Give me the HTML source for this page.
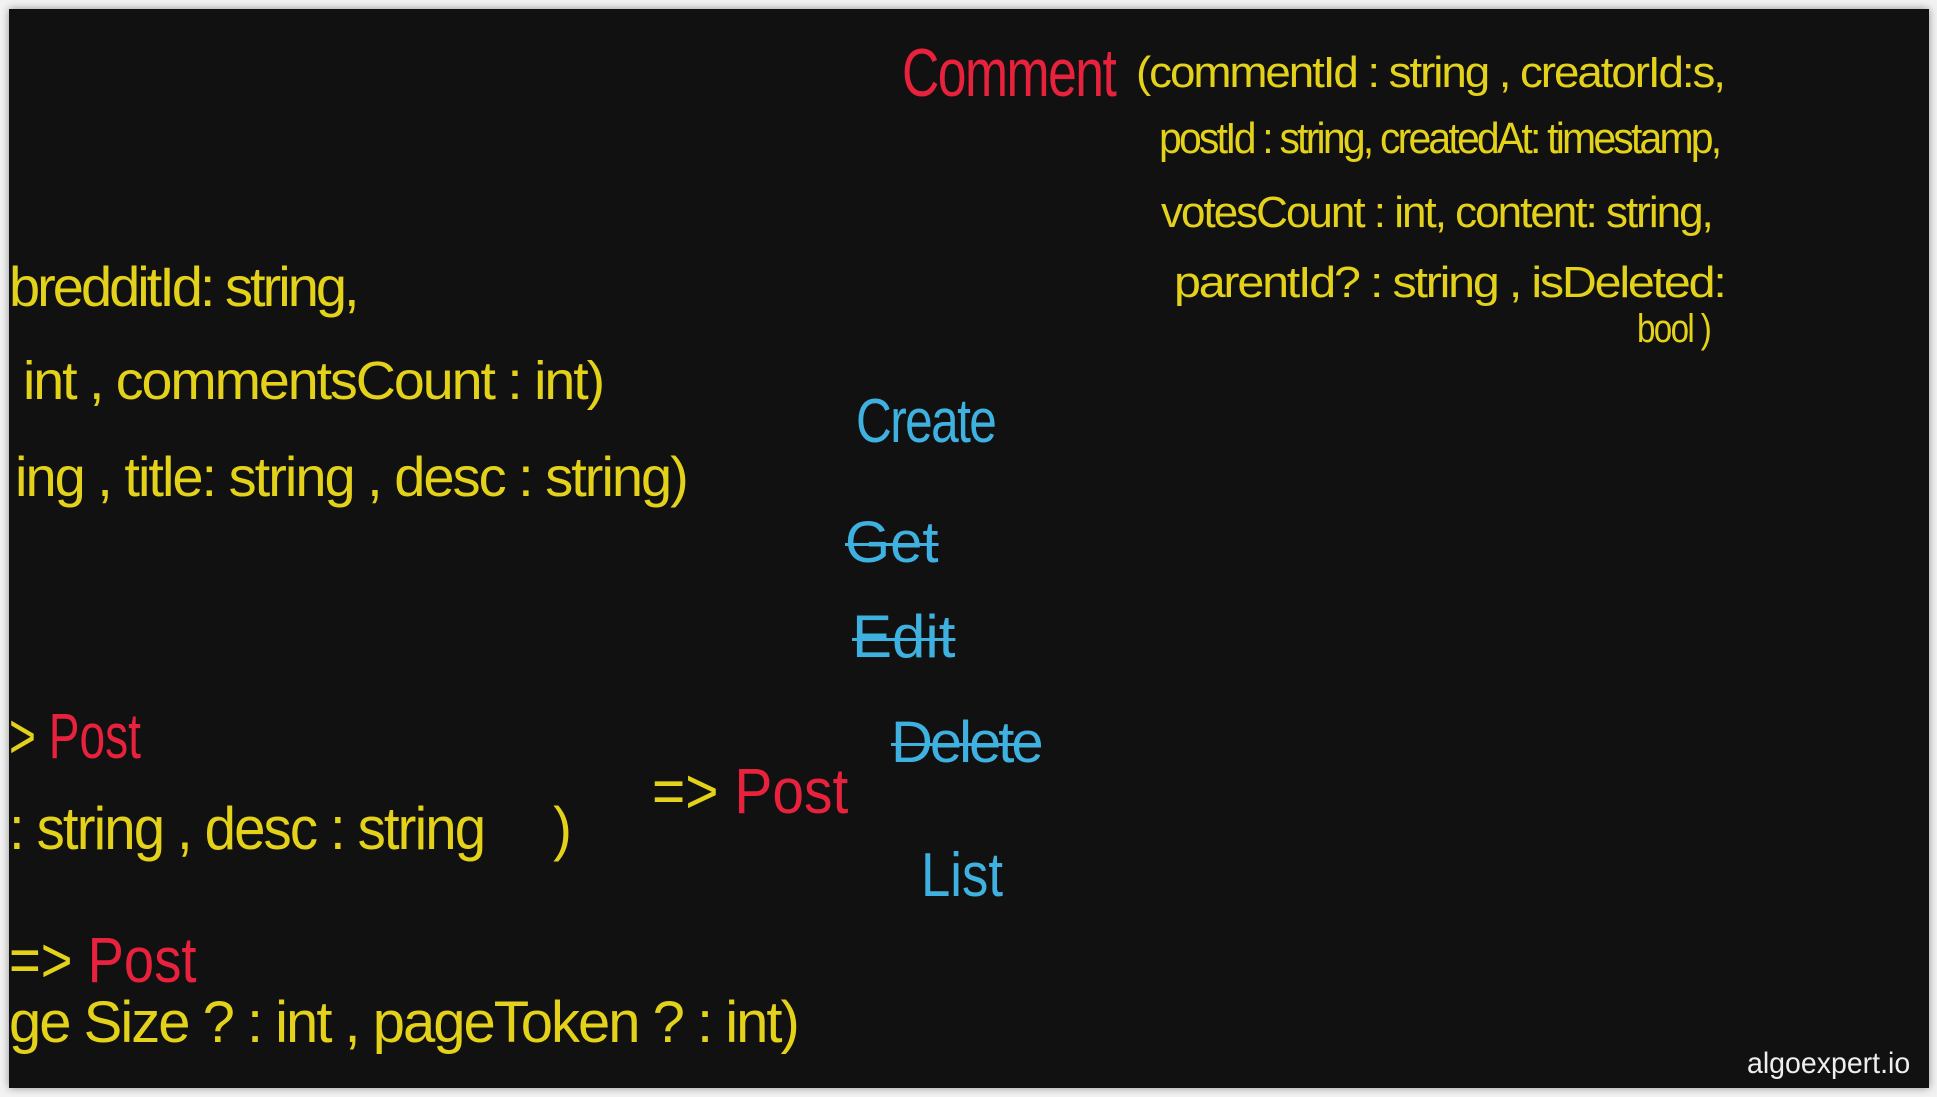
<!DOCTYPE html>
<html><head><meta charset="utf-8"><style>
html,body{margin:0;padding:0;width:1937px;height:1097px;background:#f2f2f2;overflow:hidden}
#b{position:absolute;left:9px;top:9px;width:1920px;height:1079px;background:#111;overflow:hidden;box-shadow:0 0 8px rgba(0,0,0,.4)}
.t{position:absolute;white-space:nowrap;font-family:"Liberation Sans",sans-serif;line-height:1;transform-origin:0 0}
.y{color:#e4d21a}.r{color:#e8213c}.c{color:#3fb1e0}
.s{text-decoration:line-through;text-decoration-thickness:3px}
</style></head><body><div id="b">
<div class="t r" style="left:893px;top:30px;font-size:68px;letter-spacing:-2px;transform:scaleX(0.76)">Comment</div>
<div class="t y" style="left:1127px;top:42px;font-size:44px;letter-spacing:-2px;transform:scaleX(1.04)">(commentId : string , creatorId:s,</div>
<div class="t y" style="left:1150px;top:108px;font-size:44px;letter-spacing:-3px;transform:scaleX(0.93)">postId : string, createdAt: timestamp,</div>
<div class="t y" style="left:1152px;top:182px;font-size:44px;letter-spacing:-2px">votesCount : int, content: string,</div>
<div class="t y" style="left:1165px;top:252px;font-size:44px;letter-spacing:-2px;transform:scaleX(1.1)">parentId? : string , isDeleted:</div>
<div class="t y" style="left:1628px;top:300px;font-size:40px;letter-spacing:-2px;transform:scaleX(0.83)">bool )</div>

<div class="t y" style="left:0px;top:250px;font-size:56px;letter-spacing:-3px">bredditId: string,</div>
<div class="t y" style="left:14px;top:345px;font-size:54px;letter-spacing:-2px;transform:scaleX(1.03)">int ,   commentsCount : int)</div>
<div class="t y" style="left:6px;top:440px;font-size:56px;letter-spacing:-2px">ing , title: string , desc : string)</div>

<div class="t c" style="left:847px;top:382px;font-size:62px;letter-spacing:-2px;transform:scaleX(0.8)">Create</div>
<div class="t c s" style="left:836px;top:505px;font-size:58px">Get</div>
<div class="t c s" style="left:843px;top:598px;font-size:60px">Edit</div>
<div class="t c s" style="left:882px;top:705px;font-size:58px;letter-spacing:-3px">Delete</div>
<div class="t c" style="left:912px;top:836px;font-size:62px;transform:scaleX(0.85)">List</div>

<div class="t r" style="left:0px;top:695px;font-size:64px;transform:scaleX(0.72)"><span class="y">&gt;</span> Post</div>
<div class="t y" style="left:0px;top:790px;font-size:60px;letter-spacing:-2px;transform:scaleX(0.94)">: string , desc : string&nbsp;&nbsp;&nbsp;&nbsp; )</div>
<div class="t r" style="left:643px;top:750px;font-size:64px;transform:scaleX(0.89)"><span class="y">=&gt;</span> Post</div>
<div class="t r" style="left:0px;top:919px;font-size:64px;transform:scaleX(0.85)"><span class="y">=&gt;</span> Post</div>
<div class="t y" style="left:0px;top:985px;font-size:58px;letter-spacing:-2px">ge Size ? : int ,  pageToken ? : int)</div>

<div class="t" style="left:1738px;top:1040px;font-size:30px;color:#eee;transform:scaleX(0.95)">algoexpert.io</div>
</div></body></html>
